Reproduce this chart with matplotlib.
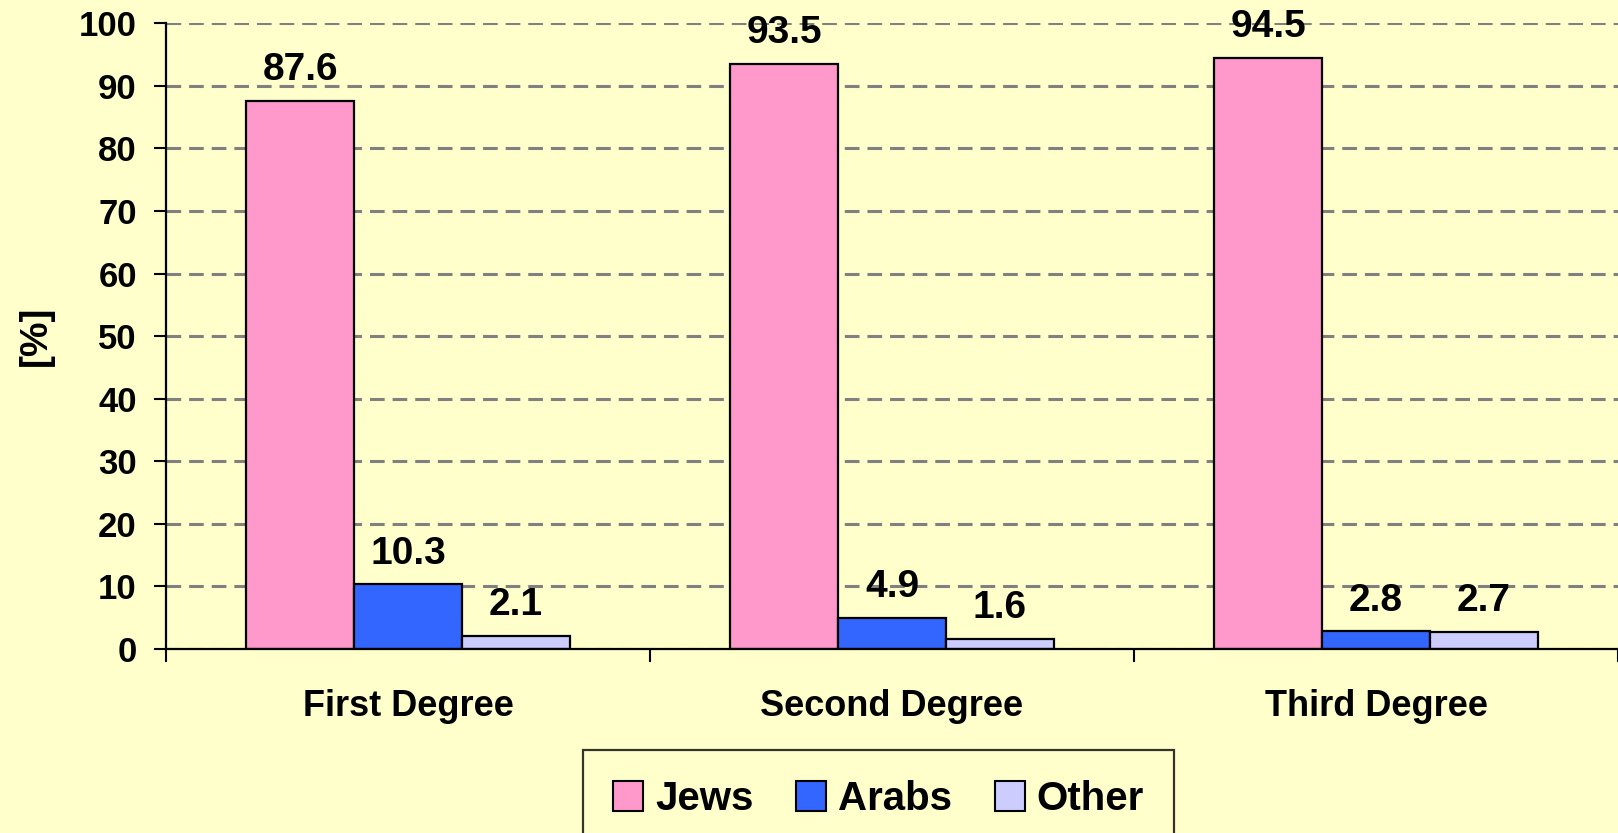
import matplotlib
matplotlib.use("Agg")
import matplotlib.pyplot as plt
from matplotlib.patches import Patch
import numpy as np

categories = ["First Degree", "Second Degree", "Third Degree"]
series = ["Jews", "Arabs", "Other"]
jews = [87.6, 93.5, 94.5]
arabs = [10.3, 4.9, 2.8]
other = [2.1, 1.6, 2.7]

BG = "#FFFFCC"
COLORS = ["#FF99CC", "#3366FF", "#CCCCFF"]
GRID = "#808080"

plt.rcParams["font.family"] = ["Liberation Sans", "DejaVu Sans"]
plt.rcParams["font.weight"] = "bold"


def main():
    fig = plt.figure(figsize=(16.18, 8.33), dpi=100)
    fig.patch.set_facecolor(BG)
    ax = fig.add_axes([0.1026, 0.221, 0.8974, 0.751])
    ax.set_facecolor(BG)

    x = np.arange(len(categories))
    width = 0.223
    values = [jews, arabs, other]
    for i, (name, vals) in enumerate(zip(series, values)):
        pos = x + (i - 1) * width
        bars = ax.bar(pos, vals, width, color=COLORS[i], edgecolor="black",
                      linewidth=1.6, label=name, zorder=3)
        for b, v in zip(bars, vals):
            ax.annotate(f"{v:.1f}", (b.get_x() + b.get_width() / 2, v),
                        xytext=(0, 15), textcoords="offset points",
                        ha="center", va="baseline", fontsize=28,
                        fontweight="bold", zorder=4)

    ax.set_xlim(-0.5, 2.5)
    ax.set_ylim(0, 100)
    ax.set_yticks(np.arange(0, 101, 10))
    ax.yaxis.grid(True, color=GRID, linestyle=(0, (4.8, 2.6)), linewidth=2.2, zorder=0)
    ax.set_axisbelow(True)

    # category boundaries as tick marks, names as minor labels
    ax.set_xticks([-0.5, 0.5, 1.5, 2.5])
    ax.set_xticklabels([])
    ax.set_xticks(x, minor=True)
    ax.set_xticklabels(categories, minor=True, fontsize=26, fontweight="bold")
    ax.tick_params(axis="x", which="minor", length=0, pad=29)
    ax.tick_params(axis="x", which="major", length=9, width=1.5, direction="out")
    ax.tick_params(axis="y", length=9, width=1.5, pad=12, labelsize=25)
    for lab in ax.get_yticklabels():
        lab.set_fontweight("bold")

    for s in ["top", "right"]:
        ax.spines[s].set_visible(False)
    for s in ["left", "bottom"]:
        ax.spines[s].set_linewidth(1.6)
    ax.spines["bottom"].set_zorder(5)

    ax.set_ylabel("[%]", fontsize=28, fontweight="bold", labelpad=18)

    handles = [Patch(facecolor=c, edgecolor="black", linewidth=1.5) for c in COLORS]
    leg = fig.legend(handles, series, loc="upper center", bbox_to_anchor=(0.543, 0.0996),
                     ncol=3, frameon=True, fancybox=False, fontsize=29,
                     handlelength=0.75, handleheight=0.75, handletextpad=0.3,
                     columnspacing=1.05, borderpad=0.75, borderaxespad=0)
    leg.get_frame().set_edgecolor("black")
    leg.get_frame().set_facecolor(BG)
    leg.get_frame().set_linewidth(1.6)
    for t in leg.get_texts():
        t.set_fontweight("bold")

    fig.savefig("out.png", dpi=100, facecolor=BG)


if __name__ == "__main__":
    main()
